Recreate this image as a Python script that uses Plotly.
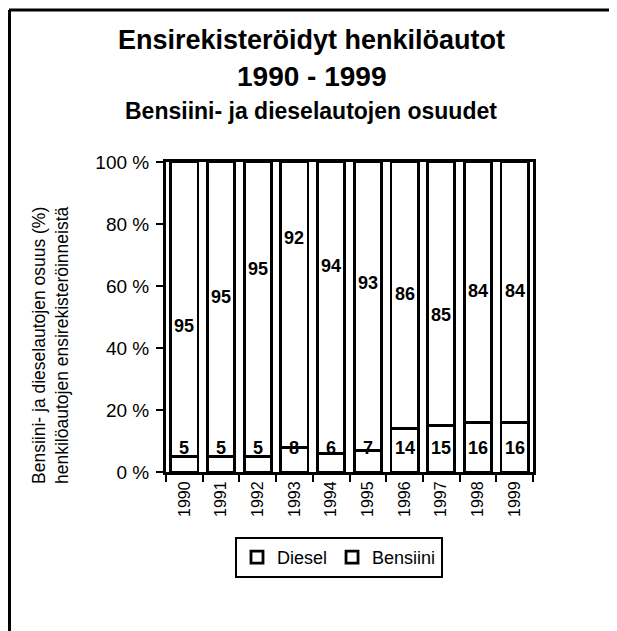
import plotly.graph_objects as go

years = ["1990", "1991", "1992", "1993", "1994", "1995", "1996", "1997", "1998", "1999"]
diesel = [5, 5, 5, 8, 6, 7, 14, 15, 16, 16]
bensiini = [95, 95, 95, 92, 94, 93, 86, 85, 84, 84]

# label heights (in %) as they sit in the original chart
bensiini_label_y = [47, 56.5, 65.5, 75.5, 66.5, 61, 57.5, 50.5, 58.5, 58.5]
diesel_label_y = [7.7] * 10

# the page puts the figure 8px in from the top-left corner
OFF = 8
W, H = 617 - OFF, 631 - OFF
L, T = 166 - OFF, 162 - OFF
R, B = 84, 159
PW, PH = W - L - R, H - T - B


def px_x(px):
    return (px - OFF - L) / PW


def px_y(py):
    return (H - B - (py - OFF)) / PH


FONT = "Liberation Sans, Arial, sans-serif"
bar_line = {"color": "black", "width": 2.8}

fig = go.Figure()
fig.add_trace(go.Bar(
    x=years, y=diesel, name="Diesel",
    marker={"color": "white", "line": bar_line},
))
fig.add_trace(go.Bar(
    x=years, y=bensiini, name="Bensiini",
    marker={"color": "white", "line": bar_line},
))

label_font = {"family": FONT, "size": 18, "color": "black"}
annotations = []
for i, (v, ly) in enumerate(zip(bensiini, bensiini_label_y)):
    annotations.append(dict(x=i, y=ly, text=f"<b>{v}</b>", showarrow=False,
                            font=label_font, xref="x", yref="y"))
for i, (v, ly) in enumerate(zip(diesel, diesel_label_y)):
    annotations.append(dict(x=i, y=ly, text=f"<b>{v}</b>", showarrow=False,
                            font=label_font, xref="x", yref="y"))

titles = [
    ("<b>Ensirekisteröidyt henkilöautot</b>", 40, 27),
    ("<b>1990 - 1999</b>", 76, 28),
    ("<b>Bensiini- ja dieselautojen osuudet</b>", 111, 23),
]
for txt, py, size in titles:
    annotations.append(dict(x=px_x(311), y=px_y(py), xref="paper", yref="paper",
                            text=txt, showarrow=False, xanchor="center", yanchor="middle",
                            font={"family": FONT, "size": size, "color": "black"}))

annotations.append(dict(
    x=px_x(50), y=px_y(345), xref="paper", yref="paper", textangle=-90,
    text="Bensiini- ja dieselautojen osuus (%)<br>henkilöautojen ensirekisteröinneistä",
    showarrow=False, xanchor="center", yanchor="middle",
    font={"family": FONT, "size": 17.5, "color": "black"},
))

frame = {"color": "black", "width": 3}
shapes = [
    dict(type="line", xref="paper", yref="paper", x0=px_x(9), x1=px_x(617),
         y0=px_y(10), y1=px_y(10), line=frame),
    dict(type="line", xref="paper", yref="paper", x0=px_x(9.5), x1=px_x(9.5),
         y0=px_y(10), y1=px_y(631), line=frame),
]

fig.update_layout(
    width=W, height=H,
    margin={"l": L, "r": R, "t": T, "b": B},
    barmode="stack",
    bargap=0.26,
    paper_bgcolor="white",
    plot_bgcolor="white",
    font={"family": FONT, "size": 15, "color": "black"},
    showlegend=True,
    legend={
        "orientation": "h",
        "x": px_x(339), "xanchor": "center",
        "y": px_y(537), "yanchor": "top",
        "bordercolor": "black", "borderwidth": 2,
        "font": {"family": FONT, "size": 18, "color": "black"},
        "traceorder": "normal",
    },
    xaxis={
        "type": "category",
        "showline": True, "linecolor": "black", "linewidth": 3, "mirror": True,
        "ticks": "outside", "tickson": "boundaries", "ticklen": 7,
        "tickcolor": "black", "tickwidth": 2,
        "tickangle": -90,
        "tickfont": {"family": FONT, "size": 16, "color": "black"},
        "showgrid": False,
    },
    yaxis={
        "range": [0, 100],
        "dtick": 20,
        "ticksuffix": " %",
        "showline": True, "linecolor": "black", "linewidth": 3, "mirror": True,
        "ticks": "outside", "ticklen": 7, "tickcolor": "black", "tickwidth": 2,
        "ticklabelstandoff": 3,
        "tickfont": {"family": FONT, "size": 19, "color": "black"},
        "showgrid": False, "zeroline": False,
    },
    annotations=annotations,
    shapes=shapes,
)

fig.write_html("out.html")
